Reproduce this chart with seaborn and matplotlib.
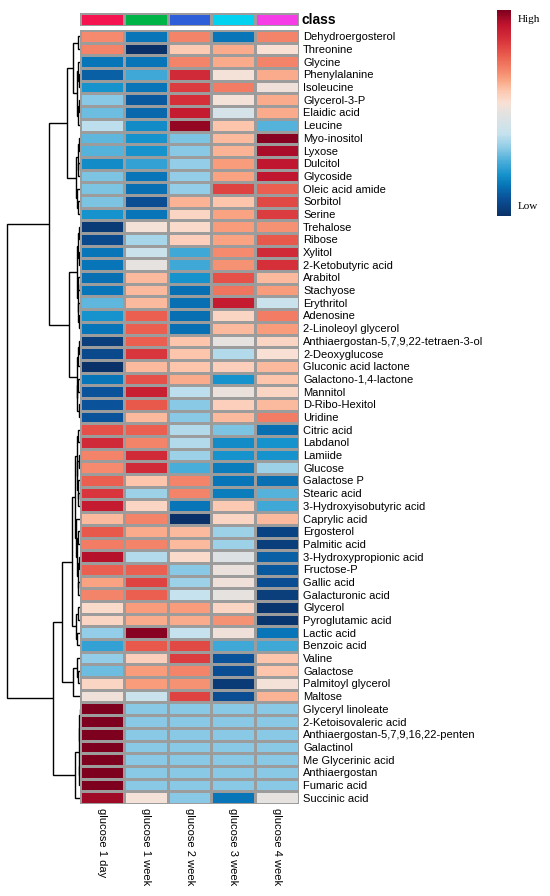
import numpy as np
import pandas as pd
import seaborn as sns
import matplotlib
matplotlib.use("Agg")
import matplotlib.pyplot as plt
from matplotlib.colors import LinearSegmentedColormap, ListedColormap

# ---------------- data ----------------
columns = ["glucose 1 day", "glucose 1 week", "glucose 2 week", "glucose 3 week", "glucose 4 week"]
class_colors = ["#f5144f", "#00b446", "#2f5fd8", "#00d2f0", "#f53ce6"]

metabolites = [
    "Dehydroergosterol", "Threonine", "Glycine", "Phenylalanine", "Isoleucine",
    "Glycerol-3-P", "Elaidic acid", "Leucine", "Myo-inositol", "Lyxose",
    "Dulcitol", "Glycoside", "Oleic acid amide", "Sorbitol", "Serine",
    "Trehalose", "Ribose", "Xylitol", "2-Ketobutyric acid", "Arabitol",
    "Stachyose", "Erythritol", "Adenosine", "2-Linoleoyl glycerol",
    "Anthiaergostan-5,7,9,22-tetraen-3-ol", "2-Deoxyglucose", "Gluconic acid lactone",
    "Galactono-1,4-lactone", "Mannitol", "D-Ribo-Hexitol", "Uridine",
    "Citric acid", "Labdanol", "Lamiide", "Glucose", "Galactose P", "Stearic acid",
    "3-Hydroxyisobutyric acid", "Caprylic acid", "Ergosterol", "Palmitic acid",
    "3-Hydroxypropionic acid", "Fructose-P", "Gallic acid", "Galacturonic acid",
    "Glycerol", "Pyroglutamic acid", "Lactic acid", "Benzoic acid", "Valine",
    "Galactose", "Palmitoyl glycerol", "Maltose", "Glyceryl linoleate",
    "2-Ketoisovaleric acid", "Anthiaergostan-5,7,9,16,22-penten", "Galactinol",
    "Me Glycerinic acid", "Anthiaergostan", "Fumaric acid", "Succinic acid",
]

day1 = [0.8, 0.85, -1.4, -1.55, -1.2, -0.7, -0.8, -0.45, -0.85, -0.9,
        -1.25, -0.75, -0.75, -0.75, -1.2, -1.9, -1.75, -1.4, -1.4, -1.45,
        -1.4, -0.85, -1.2, -1.4, -1.85, -1.75, -2.0, -1.4, -1.65, -1.65, -1.65,
        1.2, 1.5, 0.85, 0.8, 1.1, 1.4, 1.65, 0.5, 1.15, 0.9,
        1.75, 1.1, 0.65, 0.85, 0.25, 0.3, -0.65, -1.05, -0.65,
        -0.8, 0.3, 0.1, 2.0, 2.0, 2.0, 2.0, 2.0, 2.0, 2.0, 1.85]
week1 = [-1.4, -2.0, -1.4, -1.0, -1.4, -1.6, -1.5, -1.25, -1.2, -1.2,
         -1.05, -1.4, -1.45, -1.7, -1.4, 0.15, -0.55, -0.35, 0.0, 0.5,
         0.5, 0.5, 1.1, 1.1, 1.1, 1.4, 0.5, 1.2, 1.6, 1.15, 0.5,
         1.1, 0.85, 1.5, 1.5, 0.45, -0.6, 0.3, 0.85, 0.6, 0.85,
         -0.5, 1.1, 1.3, 1.1, 0.7, 0.6, 1.95, 1.15, 0.35,
         0.7, 0.7, -0.35, -0.7, -0.7, -0.7, -0.7, -0.7, -0.7, -0.7, 0.15]
week2 = [0.85, 0.4, 0.85, 1.5, 1.35, 1.45, 1.65, 1.9, -0.75, -0.7,
         -0.65, -0.65, -0.65, 0.55, 0.3, 0.25, 0.35, -1.0, -1.0, -1.2,
         -1.45, -1.45, -1.45, -1.45, 0.45, 0.45, 0.45, 0.6, -0.45, -0.7, -0.7,
         -0.5, -0.5, -0.6, -0.95, 0.85, 0.85, -1.4, -2.0, 0.5, 0.5,
         0.25, -0.7, -0.6, -0.4, 0.7, 0.6, -0.4, 1.25, 1.35,
         0.85, 0.75, 1.3, -0.7, -0.7, -0.7, -0.7, -0.7, -0.7, -0.7, -0.7]
week3 = [-1.4, 0.6, 0.6, 0.15, 0.9, 0.15, -0.2, 0.45, 0.5, 0.55,
         0.7, 0.65, 1.3, 0.45, 0.65, 0.7, 0.65, 0.8, 0.75, 1.2,
         0.95, 1.65, 0.3, 0.5, 0.0, -0.5, 0.35, -1.2, 0.05, 0.35, 0.5,
         -0.75, -1.25, -1.2, -1.35, -1.4, -1.35, 0.4, 0.3, -0.6, -0.6,
         -0.1, 0.05, 0.1, 0.0, 0.3, 0.75, 0.1, -1.0, -1.65,
         -1.7, -1.9, -1.7, -0.7, -0.7, -0.7, -0.7, -0.7, -0.7, -0.7, -1.4]
week4 = [0.85, 0.2, 0.85, 0.6, 0.1, 0.6, 0.6, -0.9, 1.95, 1.8,
         1.7, 1.7, 1.1, 1.25, 1.35, 0.75, 1.15, 1.5, 1.45, 0.5,
         0.7, -0.35, 0.9, 0.7, 0.3, 0.2, 0.5, 0.45, 0.3, 0.5, 0.9,
         -1.45, -1.2, -1.2, -0.6, -1.45, -0.9, -1.0, 0.5, -1.8, -1.85,
         -1.55, -1.6, -1.7, -1.85, -1.95, -1.95, -1.4, -1.0, 0.45,
         0.45, 0.15, 0.55, -0.7, -0.7, -0.7, -0.7, -0.7, -0.7, -0.7, 0.0]

# row dendrogram: (merge height, left, right); leaves are row indices
group_a1 = (13,
            (7, (2.5, 0, 1), (3.5, (2.2, 2, (1.5, 3, 4)), (2.5, (1.5, 5, 6), 7))),
            (4, (2.5, (1.2, 8, 9), (1.8, 10, 11)), (3, 12, (2, 13, 14))))
group_a2 = (11,
            (2.8, (2, (1.2, 15, 16), (1.4, 17, 18)), (2.4, (1.6, 19, 20), (2, 21, (1.5, 22, 23)))),
            (3.2, (2.2, (1.5, 24, 25), 26), (2.6, (1.8, 27, 28), (1.5, 29, 30))))
group_b1 = (18,
            (8,
             (5, (3.5, (2, 31, 32), (2.8, (1.5, 33, 34), (2.2, 35, (1.6, 36, 37)))),
              (3.8, 38, (3, (2, 39, 40), (2.4, (1.5, 41, 42), (1.7, 43, 44))))),
             (4, (2, 45, 46), (3, 47, 48))),
            (7, (3, 49, (2, 50, 51)), 52))
group_b2 = (5, (1, (0.6, (0.4, 53, 54), (0.4, 55, 56)), (0.6, (0.4, 57, 58), 59)), 60)
row_tree = (73, (31, group_a1, group_a2), (27, group_b1, group_b2))

# ---------------- colours ----------------
cmap = LinearSegmentedColormap.from_list("hm", [
    (0.00, "#0a3268"), (0.08, "#0a4f96"), (0.15, "#0876b8"), (0.20, "#1692cc"),
    (0.27, "#4fb0da"), (0.33, "#8ecbe6"), (0.40, "#c6e2ee"), (0.50, "#e4e2e0"),
    (0.55, "#f9e0d4"), (0.61, "#fcc6ad"), (0.66, "#f9a583"), (0.71, "#f4856a"),
    (0.79, "#e8574a"), (0.86, "#d6303a"), (0.93, "#c0142e"), (1.00, "#7d001e"),
])

df = pd.DataFrame({c: v for c, v in zip(columns, [day1, week1, week2, week3, week4])},
                  index=metabolites)

W, H = 550, 896
fig = plt.figure(figsize=(W / 100, H / 100), dpi=100)
sans = ["Liberation Sans", "DejaVu Sans"]
serif = ["Liberation Serif", "DejaVu Serif"]

def rect(x0, y0, x1, y1):
    return [x0 / W, 1 - y1 / H, (x1 - x0) / W, (y1 - y0) / H]

ax = fig.add_axes(rect(80, 30, 299, 804))
cax = fig.add_axes(rect(497, 10, 511, 216))
tax = fig.add_axes(rect(80, 12.6, 299, 26.5))
dax = fig.add_axes(rect(5, 30, 80, 804))

grid = "#9c9c9c"
sns.heatmap(df, ax=ax, cmap=cmap, vmin=-2, vmax=2, linewidths=0.8, linecolor=grid,
            cbar_ax=cax, cbar_kws={"ticks": [1.84, -1.79]})
ax.yaxis.tick_right()
ax.set_yticks(np.arange(len(metabolites)) + 0.5)
ax.set_yticklabels(metabolites, rotation=0, fontsize=8, family=sans)
ax.set_xticklabels(columns, rotation=-90, fontsize=8, family=sans)
ax.tick_params(axis="both", length=0, pad=3)
ax.tick_params(axis="y", pad=3)
ax.set_xlabel("")
ax.set_ylabel("")

cb = ax.collections[0].colorbar
cb.outline.set_visible(False)
cb.set_ticklabels(["High", "Low"])
cax.tick_params(length=0, pad=5)
for t in cax.get_yticklabels():
    t.set_family(serif)
    t.set_fontsize(8)

# class annotation bar
sns.heatmap(pd.DataFrame([list(range(len(columns)))], columns=columns), ax=tax,
            cmap=ListedColormap(class_colors), cbar=False, linewidths=0.8, linecolor=grid)
tax.set_xticks([])
tax.set_yticks([])
tax.set_xlabel("")
tax.set_ylabel("")
tax.text(len(columns) + 0.05, 0.5, "class", ha="left", va="center",
         fontsize=10, fontweight="bold", family=sans)

# dendrogram
def draw(node):
    if isinstance(node, int):
        return node + 0.5, 0.0
    h, left, right = node
    yl, hl = draw(left)
    yr, hr = draw(right)
    dax.plot([hl, h, h, hr], [yl, yl, yr, yr], color="black", lw=1.0,
             solid_capstyle="butt", solid_joinstyle="miter")
    return (yl + yr) / 2, h

draw(row_tree)
dax.set_ylim(len(metabolites), 0)
dax.set_xlim(75, 0)
dax.axis("off")

fig.savefig("out.png", dpi=100)
